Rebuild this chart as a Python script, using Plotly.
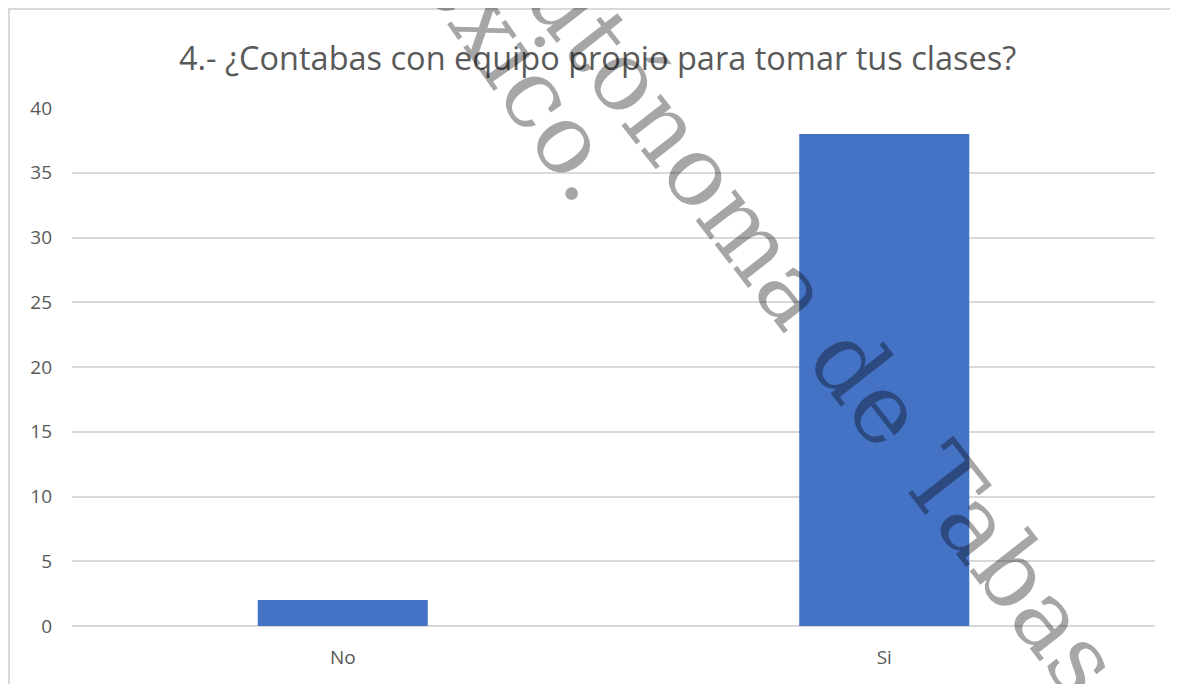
import plotly.graph_objects as go

categories = ["No", "Si"]
values = [2, 38]
y_ticks = [0, 5, 10, 15, 20, 25, 30, 35, 40]
title_text = "4.- ¿Contabas con equipo propio para tomar tus clases?"

W, H = 1170, 676
OFF = 8  # page offset of the figure inside the browser window
L, R, T, B = 72 - OFF, 1155 - OFF, 108 - OFF, 626 - OFF  # plot area in figure pixels


def px(x):  # x given in screenshot pixels
    return (x - OFF - L) / (R - L)


def py(y):  # y given in screenshot pixels
    return (B - (y - OFF)) / (B - T)


fig = go.Figure()
fig.add_trace(go.Bar(x=categories, y=values, marker=dict(color="#4472C4", line=dict(width=0)),
                     hoverinfo="x+y"))

wm_font = dict(family="DejaVu Serif", size=97, color="rgba(0,0,0,0.35)")
fig.update_layout(
    width=W, height=H,
    margin=dict(l=L, r=W - R, t=T, b=H - B, autoexpand=False),
    paper_bgcolor="white", plot_bgcolor="white",
    bargap=0.686,
    showlegend=False,
    font=dict(family="Open Sans", color="#595959"),
    xaxis=dict(showgrid=False, showline=False, ticks="", tickfont=dict(size=19, color="#595959"),
               zeroline=False, ticklabelstandoff=18),
    yaxis=dict(range=[0, 40], tickvals=y_ticks, showgrid=True, gridcolor="#d9d9d9", gridwidth=2,
               zeroline=True, zerolinecolor="#d9d9d9", zerolinewidth=2, showline=False,
               ticks="", tickfont=dict(size=19, color="#595959"), ticklabelstandoff=19),
    annotations=[
        dict(text=title_text, x=px(597), y=py(57), xref="paper", yref="paper", showarrow=False,
             xanchor="center", yanchor="middle", font=dict(family="Open Sans", size=32.5, color="#595959")),
        dict(text="México.", x=px(494), y=py(32), xref="paper", yref="paper", showarrow=False,
             xanchor="center", yanchor="middle", textangle=55, font=wm_font),
        dict(text="Autónoma de Tabasco", x=px(836), y=py(345), xref="paper", yref="paper", showarrow=False,
             xanchor="center", yanchor="middle", textangle=52, font=wm_font),
    ],
    shapes=[
        dict(type="line", xref="paper", yref="paper", x0=px(8), x1=px(1200), y0=py(9), y1=py(9),
             line=dict(color="#d9d9d9", width=2), layer="above"),
        dict(type="line", xref="paper", yref="paper", x0=px(9), x1=px(9), y0=py(8), y1=py(720),
             line=dict(color="#d9d9d9", width=2), layer="above"),
        dict(type="rect", xref="paper", yref="paper", x0=px(666), x1=px(725), y0=py(490), y1=py(502),
             fillcolor="white", line=dict(width=0), layer="below"),
    ],
)

fig.write_html("out.html")
